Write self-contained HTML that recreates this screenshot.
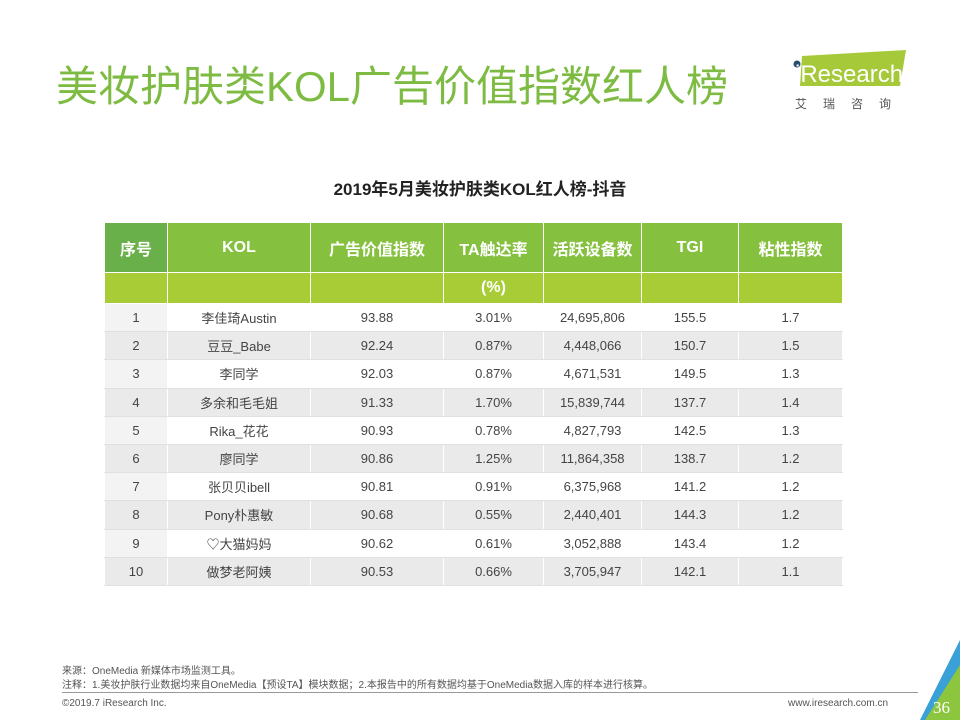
<!DOCTYPE html>
<html><head><meta charset="utf-8">
<style>
*{margin:0;padding:0;box-sizing:border-box}
body{width:960px;height:720px;background:#fff;position:relative;overflow:hidden;font-family:"Liberation Sans","Noto Sans CJK SC",sans-serif}
.abs{position:absolute}
table{position:absolute;left:104px;top:222px;border-collapse:collapse;table-layout:fixed;width:738px}
td,th{text-align:center;border:1px solid #fff;font-size:13px;color:#444;padding:0;white-space:nowrap}
th{color:#fff;font-weight:bold;font-size:16px;background:#86c03f}
tr.h1 th{height:50px}
tr.h2 th{height:31px;background:#a8cc35;color:#fff}
tr.h1 th:first-child{background:#6ab04a}
td{height:28.2px;border-color:#e0e0e0 #fff}
tr.g td{background:#eaeaea}
td:first-child{background:#f3f3f3}
</style></head><body>
<div class="abs" style="left:56px;top:53px;font-size:42px;color:#7dbb42">美妆护肤类KOL广告价值指数红人榜</div>
<div class="abs" style="left:792px;top:50px;width:118px;height:62px">
<svg width="118" height="62"><polygon points="10,6 114,0 108,36 8,36" fill="#a6c93a"/><circle cx="5" cy="14" r="3.5" fill="#2a4a70"/><text x="3" y="32" font-family="Liberation Sans" font-size="24" fill="#fff">iResearch</text><text x="3" y="58" font-family="Noto Sans CJK SC" font-size="12" fill="#555" letter-spacing="16">艾瑞咨询</text></svg></div>
<div class="abs" style="left:0;width:960px;top:175px;text-align:center;font-size:17px;font-weight:bold;color:#222">2019年5月美妆护肤类KOL红人榜-抖音</div>
<table>
<colgroup><col style="width:63px"><col style="width:143px"><col style="width:133px"><col style="width:100px"><col style="width:98px"><col style="width:97px"><col style="width:104px"></colgroup>
<tr class="h1"><th>序号</th><th>KOL</th><th>广告价值指数</th><th>TA触达率</th><th>活跃设备数</th><th>TGI</th><th>粘性指数</th></tr>
<tr class="h2"><th></th><th></th><th></th><th>(%)</th><th></th><th></th><th></th></tr>
<tr><td>1</td><td>李佳琦Austin</td><td>93.88</td><td>3.01%</td><td>24,695,806</td><td>155.5</td><td>1.7</td></tr>
<tr class="g"><td>2</td><td>豆豆_Babe</td><td>92.24</td><td>0.87%</td><td>4,448,066</td><td>150.7</td><td>1.5</td></tr>
<tr><td>3</td><td>李同学</td><td>92.03</td><td>0.87%</td><td>4,671,531</td><td>149.5</td><td>1.3</td></tr>
<tr class="g"><td>4</td><td>多余和毛毛姐</td><td>91.33</td><td>1.70%</td><td>15,839,744</td><td>137.7</td><td>1.4</td></tr>
<tr><td>5</td><td>Rika_花花</td><td>90.93</td><td>0.78%</td><td>4,827,793</td><td>142.5</td><td>1.3</td></tr>
<tr class="g"><td>6</td><td>廖同学</td><td>90.86</td><td>1.25%</td><td>11,864,358</td><td>138.7</td><td>1.2</td></tr>
<tr><td>7</td><td>张贝贝ibell</td><td>90.81</td><td>0.91%</td><td>6,375,968</td><td>141.2</td><td>1.2</td></tr>
<tr class="g"><td>8</td><td>Pony朴惠敏</td><td>90.68</td><td>0.55%</td><td>2,440,401</td><td>144.3</td><td>1.2</td></tr>
<tr><td>9</td><td>♡大猫妈妈</td><td>90.62</td><td>0.61%</td><td>3,052,888</td><td>143.4</td><td>1.2</td></tr>
<tr class="g"><td>10</td><td>做梦老阿姨</td><td>90.53</td><td>0.66%</td><td>3,705,947</td><td>142.1</td><td>1.1</td></tr>
</table>
<div class="abs" style="left:62px;top:665px;font-size:10px;color:#555;line-height:14px">来源：OneMedia 新媒体市场监测工具。<br>注释：1.美妆护肤行业数据均来自OneMedia【预设TA】模块数据；2.本报告中的所有数据均基于OneMedia数据入库的样本进行核算。</div>
<div class="abs" style="left:62px;top:692px;width:856px;height:1px;background:#999"></div>
<div class="abs" style="left:62px;top:698px;font-size:10px;color:#555">©2019.7 iResearch Inc.</div>
<div class="abs" style="left:788px;top:698px;font-size:10px;color:#555">www.iresearch.com.cn</div>
<svg class="abs" style="left:900px;top:640px" width="60" height="80"><polygon points="60,0 60,80 20,80" fill="#3aa0d8"/><polygon points="60,25 60,80 25,80" fill="#8cc63f"/><text x="33" y="73" font-family="Liberation Serif" font-size="17" fill="#fff">36</text></svg>
</body></html>
